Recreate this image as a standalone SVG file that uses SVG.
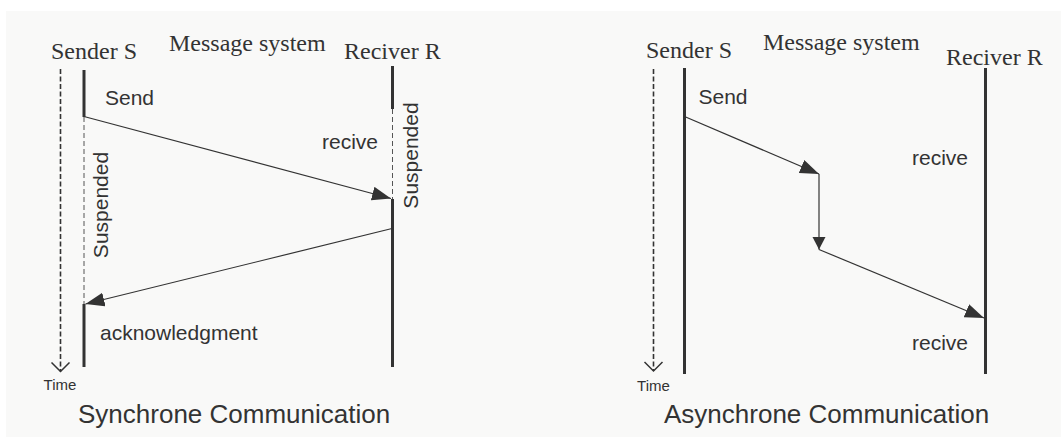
<svg xmlns="http://www.w3.org/2000/svg" width="1061" height="437" viewBox="0 0 1061 437">
<style>
.bg{fill:#f9f9f8}
.serif{font-family:"Liberation Serif","Times New Roman",serif;font-size:24px;fill:#333}
.sans{font-family:"Liberation Sans",Arial,sans-serif;font-size:21px;fill:#333}
.title{font-family:"Liberation Sans",Arial,sans-serif;font-size:26px;fill:#333}
.time{font-family:"Liberation Sans",Arial,sans-serif;font-size:15px;fill:#333}
.life{stroke:#333;stroke-width:3;fill:none}
.susp{stroke:#555;stroke-width:1;stroke-dasharray:5 3;fill:none}
.timeline{stroke:#333;stroke-width:1.6;stroke-dasharray:5 2.5;fill:none}
.msg{stroke:#333;stroke-width:1.2;fill:none;marker-end:url(#ah)}
.vmsg{stroke:#333;stroke-width:1.2;fill:none;marker-end:url(#ahs)}
</style>
<defs>
<marker id="ah" markerUnits="userSpaceOnUse" markerWidth="20" markerHeight="15" refX="19" refY="7" orient="auto">
<path d="M0,0 L19,7 L0,14 z" fill="#333"/>
</marker>
<marker id="ahs" markerUnits="userSpaceOnUse" markerWidth="14" markerHeight="14" refX="13" refY="6.75" orient="auto">
<path d="M0,0 L13,6.75 L0,13.5 z" fill="#333"/>
</marker>
<marker id="open" markerUnits="userSpaceOnUse" markerWidth="22" markerHeight="22" refX="10" refY="10" orient="auto">
<path d="M1,1 L10,10 L1,19" fill="none" stroke="#333" stroke-width="1.5"/>
</marker>
</defs>
<rect class="bg" x="6" y="11" width="1055" height="426"/>

<g id="sync">
<g id="sync-time">
<line class="timeline" x1="60.5" y1="69" x2="60.5" y2="371.5" marker-end="url(#open)"/>
<text class="time" x="60" y="390" text-anchor="middle">Time</text>
</g>
<g id="sync-sender">
<text class="serif" x="51" y="59">Sender S</text>
<line class="life" x1="84" y1="70" x2="84" y2="117"/>
<line class="susp" x1="84" y1="117" x2="84" y2="304"/>
<line class="life" x1="84" y1="304" x2="84" y2="367"/>
<text class="sans" x="105" y="105">Send</text>
<text class="sans" transform="translate(108,205) rotate(-90)" text-anchor="middle">Suspended</text>
<text class="sans" x="100" y="340">acknowledgment</text>
</g>
<g id="sync-message-system">
<text class="serif" x="169" y="51">Message system</text>
</g>
<g id="sync-receiver">
<text class="serif" x="344" y="59">Reciver R</text>
<line class="life" x1="392.5" y1="66" x2="392.5" y2="109"/>
<line class="susp" x1="392.5" y1="109" x2="392.5" y2="199"/>
<line class="life" x1="392.5" y1="199" x2="392.5" y2="367"/>
<text class="sans" x="322" y="149">recive</text>
<text class="sans" transform="translate(418,155.5) rotate(-90)" text-anchor="middle">Suspended</text>
</g>
<text class="title" x="78" y="423">Synchrone Communication</text>
</g>

<g id="async">
<g id="async-time">
<line class="timeline" x1="653.5" y1="69" x2="653.5" y2="371" marker-end="url(#open)"/>
<text class="time" x="653.5" y="391" text-anchor="middle">Time</text>
</g>
<g id="async-sender">
<text class="serif" x="646" y="58">Sender S</text>
<line class="life" x1="684.5" y1="68" x2="684.5" y2="374"/>
<text class="sans" x="698.5" y="104">Send</text>
</g>
<g id="async-message-system">
<text class="serif" x="763" y="50">Message system</text>
</g>
<g id="async-receiver">
<text class="serif" x="946" y="65">Reciver R</text>
<line class="life" x1="985.5" y1="68" x2="985.5" y2="374"/>
<text class="sans" x="912" y="165">recive</text>
<text class="sans" x="912" y="350">recive</text>
</g>
<text class="title" x="664" y="423">Asynchrone Communication</text>
</g>

<g id="connectors">
<line class="msg" x1="84" y1="116.5" x2="391" y2="198.5"/>
<line class="msg" x1="392" y1="228.5" x2="85.5" y2="304"/>
<line class="msg" x1="684.5" y1="116.5" x2="819" y2="174"/>
<line class="vmsg" x1="819" y1="174" x2="819" y2="249.5"/>
<line class="msg" x1="819" y1="249.5" x2="984" y2="318"/>
</g>
</svg>
